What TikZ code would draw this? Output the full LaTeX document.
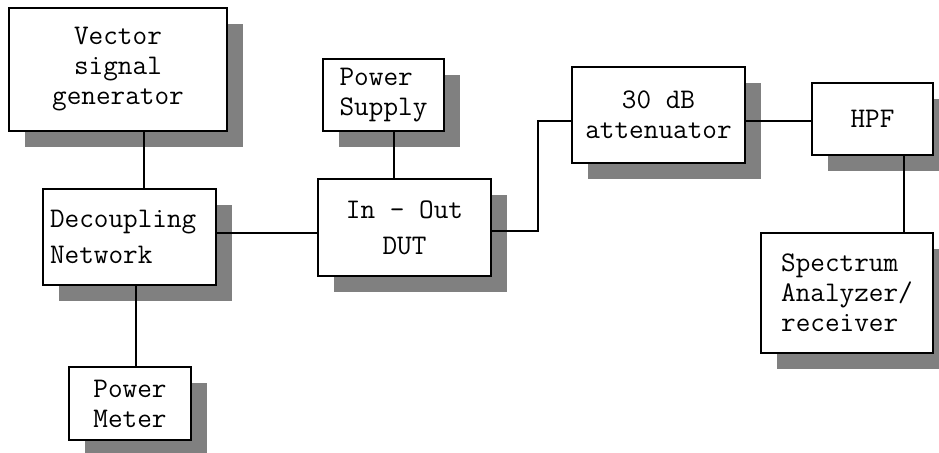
\documentclass[tikz,border=0pt]{standalone}
\usepackage{fontspec}
\usepackage{tikz}
\usetikzlibrary{shadows}
\definecolor{ShadowGray}{HTML}{808080}

\begin{document}
\begin{tikzpicture}[
    x=0.5pt, y=-0.5pt,
    blk/.style={draw=black, fill=white, line width=1pt, align=center,
        font=\ttfamily\fontsize{14.2}{15}\selectfont, inner sep=2pt,
        drop shadow={shadow xshift=8pt, shadow yshift=-8pt, opacity=1, fill=ShadowGray}},
    wire/.style={draw=black, line width=1pt}
]
\useasboundingbox (0,0) rectangle (939,452);

% Blocks
\node[blk, minimum width=109pt, minimum height=61.5pt] (vsg) at (118,69.5) {Vector\\signal\\generator};
\node[blk, align=left, text width=79.5pt, inner xsep=3.5pt, minimum height=48pt] (dn) at (129.5,237) {Decoupling\\[3pt]Network};
\node[blk, minimum width=61pt, minimum height=36.5pt] (pm) at (130,403.5) {Power\\Meter};
\node[blk, align=left, minimum width=60.5pt, minimum height=36pt] (ps) at (383.5,95) {Power\\Supply};
\node[blk, minimum width=86.5pt, minimum height=48.5pt] (dut) at (404.5,227.5) {In - Out\\[3pt]DUT};
\node[blk, minimum width=86.5pt, minimum height=48pt] (att) at (658.5,115) {30 dB\\attenuator};
\node[blk, minimum width=60.5pt, minimum height=36pt] (hpf) at (872.5,119) {HPF};
\node[blk, align=left, minimum width=86pt, minimum height=60pt] (sa) at (847,293) {Spectrum\\Analyzer/\\receiver};

% Connections
\draw[wire] ([xshift=13pt]vsg.south) -- ([xshift=13pt]vsg.south |- dn.north);
\draw[wire] ([xshift=3.25pt]dn.south) -- ([xshift=3.25pt]dn.south |- pm.north);
\draw[wire] ([yshift=2pt]dn.east) -- ([yshift=2pt]dn.east -| dut.west);
\draw[wire] ([xshift=5.25pt]ps.south) -- ([xshift=5.25pt]ps.south |- dut.north);
\draw[wire] ([yshift=-1.75pt]dut.east) -- ++(23pt,0) |- ([yshift=-3pt]att.west);
\draw[wire] ([yshift=-3pt]att.east) -- ([yshift=-3pt]att.east -| hpf.west);
\draw[wire] ([xshift=15.75pt]hpf.south) -- ([xshift=15.75pt]hpf.south |- sa.north);
\end{tikzpicture}
\end{document}
